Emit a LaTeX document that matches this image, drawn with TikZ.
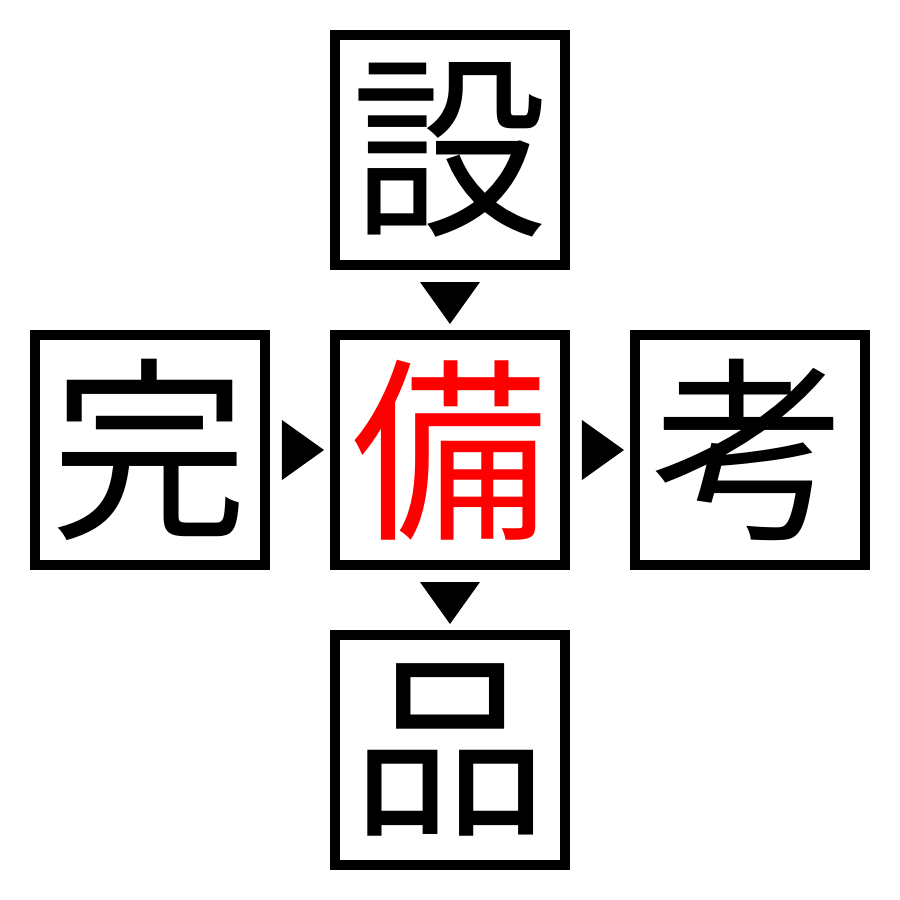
\documentclass[tikz,border=0pt]{standalone}
\usepackage{fontspec}
\newfontfamily\cjk{Noto Sans CJK JP}
\usetikzlibrary{positioning,calc}

\tikzset{
  kanjibox/.style={draw, line width=1mm, minimum size=23mm, inner sep=0pt,
    font=\cjk\fontsize{56}{56}\selectfont},
}

\begin{document}
\begin{tikzpicture}

      \useasboundingbox (-4.5,-4.5) rectangle (4.5,4.5) ;

      \node [kanjibox, text=red] (bi) at (0,0) {備} ;
      \node [kanjibox] (setsu) at (0,3) {設} ;
      \node [kanjibox] (hin) at (0,-3) {品} ;
      \node [kanjibox] (kan) at (-3,0) {完} ;
      \node [kanjibox] (kou) at (3,0) {考} ;

      % markers between the boxes
      \fill ($(setsu.south)+(-0.3,-0.12)$) -- ++(0.6,0) -- ($(bi.north)+(0,0.06)$) -- cycle ;
      \fill ($(bi.south)+(-0.3,-0.12)$) -- ++(0.6,0) -- ($(hin.north)+(0,0.06)$) -- cycle ;
      \fill ($(kan.east)+(0.12,0.3)$) -- ++(0,-0.6) -- ($(bi.west)+(-0.06,0)$) -- cycle ;
      \fill ($(bi.east)+(0.12,0.3)$) -- ++(0,-0.6) -- ($(kou.west)+(-0.06,0)$) -- cycle ;

    \end{tikzpicture}
\end{document}
